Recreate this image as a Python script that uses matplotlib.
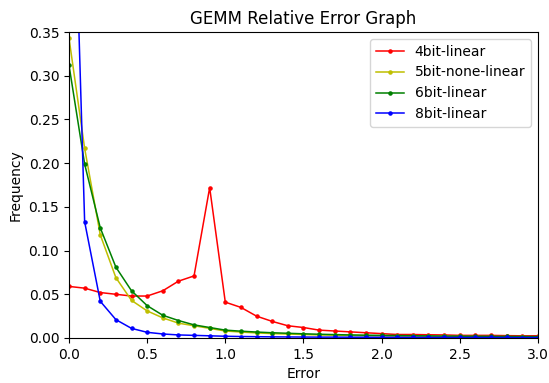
import matplotlib
matplotlib.use("Agg")
import matplotlib.pyplot as plt

x = [0.0, 0.1, 0.2, 0.3, 0.4, 0.5, 0.6, 0.7, 0.8, 0.9,
     1.0, 1.1, 1.2, 1.3, 1.4, 1.5, 1.6, 1.7, 1.8, 1.9,
     2.0, 2.1, 2.2, 2.3, 2.4, 2.5, 2.6, 2.7, 2.8, 2.9, 3.0]

bit4 = [0.059, 0.057, 0.052, 0.050, 0.048, 0.048, 0.054, 0.065, 0.071, 0.172,
        0.041, 0.035, 0.025, 0.019, 0.014, 0.012, 0.009, 0.008, 0.007, 0.006,
        0.005, 0.004, 0.004, 0.0037, 0.0035, 0.003, 0.003, 0.003, 0.0027, 0.0025, 0.0025]
bit5 = [0.343, 0.217, 0.118, 0.069, 0.043, 0.031, 0.023, 0.017, 0.014, 0.011,
        0.008, 0.0068, 0.0058, 0.005, 0.0045, 0.004, 0.0035, 0.0032, 0.003, 0.0027,
        0.0025, 0.0023, 0.0022, 0.002, 0.0019, 0.0018, 0.0017, 0.0016, 0.0015, 0.0015, 0.0014]
bit6 = [0.312, 0.199, 0.126, 0.081, 0.054, 0.037, 0.026, 0.020, 0.015, 0.012,
        0.009, 0.0078, 0.0068, 0.006, 0.0054, 0.0048, 0.0043, 0.0039, 0.0035, 0.0032,
        0.003, 0.0028, 0.0026, 0.0024, 0.0022, 0.0021, 0.002, 0.0019, 0.0018, 0.0017, 0.0016]
bit8 = [0.73, 0.133, 0.042, 0.021, 0.011, 0.0065, 0.0046, 0.0035, 0.003, 0.0025,
        0.002, 0.0017, 0.0015, 0.0013, 0.0012, 0.0011, 0.001, 0.001, 0.0009, 0.0009,
        0.0008, 0.0008, 0.0007, 0.0007, 0.0007, 0.0006, 0.0006, 0.0006, 0.0006, 0.0005, 0.0005]

labels = ["4bit-linear", "5bit-none-linear", "6bit-linear", "8bit-linear"]
colors = ["red", "y", "green", "blue"]

fig = plt.figure(figsize=(5.49, 3.83), dpi=100)
ax = fig.add_axes([0.1257, 0.1175, 0.854, 0.7989])
for ys, lab, c in zip([bit4, bit5, bit6, bit8], labels, colors):
    ax.plot(x, ys, marker='.', markersize=4.5, linewidth=1.1, color=c, label=lab)

ax.set_xlim(0, 3.0)
ax.set_ylim(0, 0.35)
ax.set_title("GEMM Relative Error Graph")
ax.set_xlabel("Error")
ax.set_ylabel("Frequency")
ax.legend(loc="upper right")
fig.savefig("out.png", dpi=100)
